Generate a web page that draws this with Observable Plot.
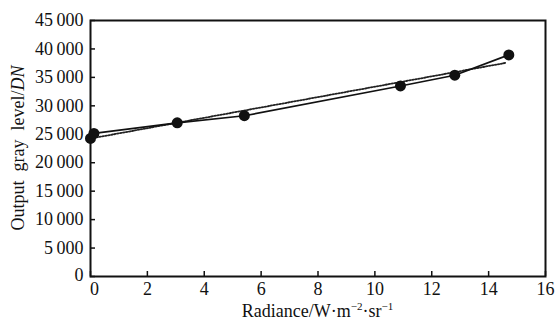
<!DOCTYPE html>
<html>
<head>
<meta charset="utf-8">
<script src="https://cdn.jsdelivr.net/npm/d3@7"></script>
<script src="https://cdn.jsdelivr.net/npm/@observablehq/plot@0.6"></script>
<style>
  html, body { margin: 0; padding: 0; background: #fff; }
  #chart svg { display: block; }
</style>
</head>
<body>
<div id="chart"></div>
<script>
// Measured points
const radiance = [0, 0.12, 3.05, 5.41, 10.9, 12.81, 14.71];
const grayLevel = [24270, 25150, 27020, 28260, 33490, 35380, 38950];
// Dotted fit line endpoints
const fitRadiance = [0, 14.6];
const fitGray = [24250, 37550];
// Ticks
const xTicks = [0, 2, 4, 6, 8, 10, 12, 14, 16];
const yTicks = [0, 5000, 10000, 15000, 20000, 25000, 30000, 35000, 40000, 45000];

const points = radiance.map((x, i) => ({x, y: grayLevel[i]}));
const fit = fitRadiance.map((x, i) => ({x, y: fitGray[i]}));

const fmt = d3.formatLocale({decimal: ".", thousands: "\u2009", grouping: [3], currency: ["", ""]}).format(",");

const FONT = "'Liberation Serif', 'Times New Roman', serif";

const plot = Plot.plot({
  width: 556,
  height: 320,
  marginLeft: 90,
  marginRight: 11,
  marginTop: 20,
  marginBottom: 44,
  style: {fontFamily: FONT, fontSize: "18px", color: "#111", background: "#fff"},
  x: {domain: [0, 16], ticks: xTicks},
  y: {domain: [0, 45000], ticks: yTicks},
  marks: [
    Plot.frame({stroke: "#111", strokeWidth: 2}),
    Plot.axisX({ticks: xTicks, tickSize: -5, tickPadding: 11, strokeWidth: 1.5, label: null, tickFormat: d => String(d)}),
    Plot.axisY({ticks: yTicks, tickSize: -5, tickPadding: 12, strokeWidth: 1.5, label: null, tickFormat: d => fmt(d)}),
    Plot.line(fit, {x: "x", y: "y", stroke: "#222", strokeWidth: 1.8, strokeDasharray: "1.5,1.5"}),
    Plot.line(points, {x: "x", y: "y", stroke: "#111", strokeWidth: 1.7}),
    Plot.dot(points, {x: "x", y: "y", r: 5.5, fill: "#111", stroke: "none"})
  ]
});

const svg = d3.select(plot);
// Nudge the two "0" labels apart as in the reference
svg.selectAll("g[aria-label='x-axis tick label'] text").filter(function() { return this.textContent === "0"; })
  .attr("dx", 4);
svg.selectAll("g[aria-label='y-axis tick label'] text").filter(function() { return this.textContent === "0"; })
  .attr("dy", "-0.05em");

// X axis label with superscripts
const xl = svg.append("text")
  .attr("x", (90 + 545) / 2).attr("y", 317)
  .attr("text-anchor", "middle")
  .style("font-family", FONT).style("font-size", "18px").attr("fill", "#111");
xl.append("tspan").text("Radiance/W\u00B7m");
xl.append("tspan").attr("dy", -7).style("font-size", "11px").text("\u22122");
xl.append("tspan").attr("dy", 7).text("\u00B7sr");
xl.append("tspan").attr("dy", -7).style("font-size", "11px").text("\u22121");

// Y axis label
const yl = svg.append("text")
  .attr("transform", `translate(24, ${(20 + 276) / 2}) rotate(-90)`)
  .attr("text-anchor", "middle")
  .style("font-family", FONT).style("font-size", "18px").style("white-space", "pre")
  .attr("fill", "#111");
yl.append("tspan").text("Output  gray  level/");
yl.append("tspan").style("font-style", "italic").text("DN");

document.getElementById("chart").appendChild(plot);
</script>
</body>
</html>
